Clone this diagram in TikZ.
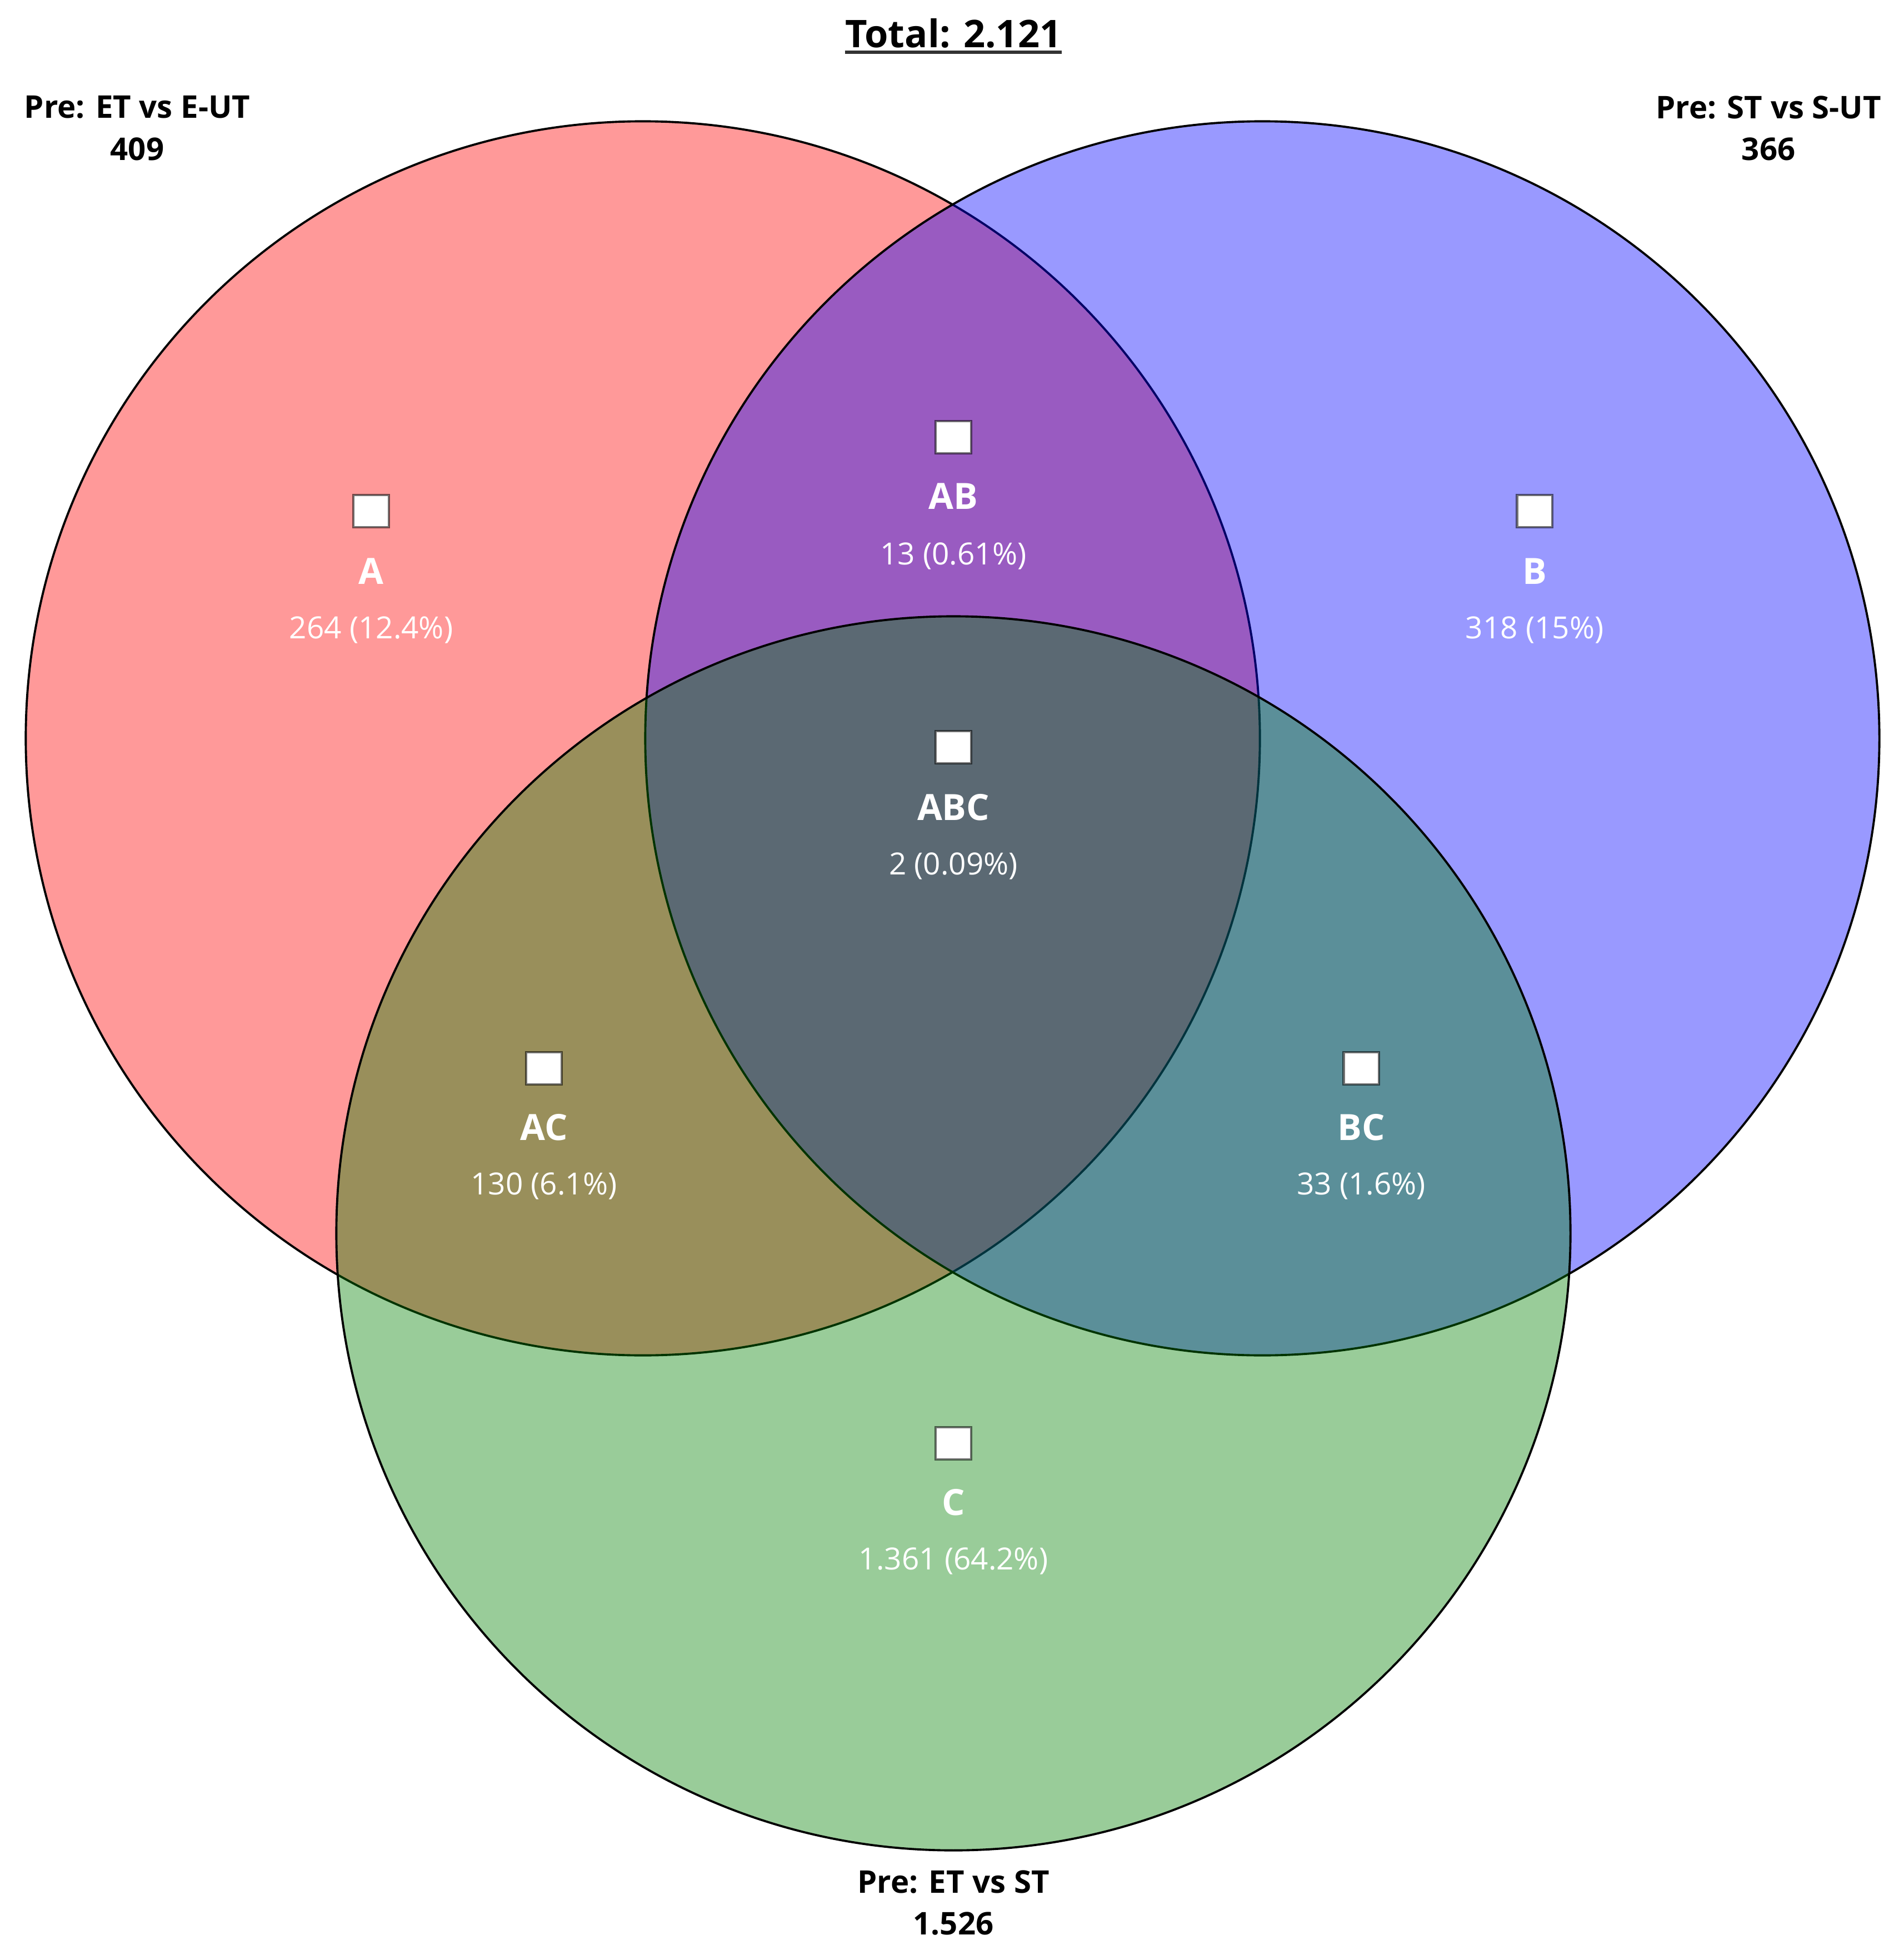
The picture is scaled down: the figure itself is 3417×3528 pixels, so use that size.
\documentclass[tikz,border=0pt]{standalone}
\usepackage{fontspec}
\setmainfont{Open Sans}
\definecolor{setAcol}{RGB}{255,0,0}
\definecolor{setBcol}{RGB}{0,0,255}
\definecolor{setCcol}{RGB}{0,128,0}
\begin{document}
\begin{tikzpicture}[x=0.01cm,y=-0.01cm,
  setcirc/.style={circle, draw=black, line width=1.1pt, fill opacity=0.4, minimum size=22.2cm, inner sep=0pt},
  sqbox/.style={draw=black, draw opacity=0.55, fill=white, line width=1.2pt, minimum width=18pt, minimum height=16.5pt, inner sep=0pt},
  reglab/.style={text=white, inner sep=0pt, font=\fontsize{18.5}{22}\selectfont\bfseries},
  regnum/.style={text=white, inner sep=0pt, font=\fontsize{15.6}{18}\selectfont},
  setlab/.style={align=center, inner sep=0pt, font=\fontsize{16}{21.5}\selectfont\bfseries},
]
\useasboundingbox (0,0) rectangle (3417,3528);
\fill[white] (0,0) rectangle (3417,3528);

% circles
\node[setcirc, fill=setAcol] (circA) at (1157,1329) {};
\node[setcirc, fill=setBcol] (circB) at (2272,1329) {};
\node[setcirc, fill=setCcol] (circC) at (1716,2220) {};

% title
\node[inner sep=0pt, anchor=base, font=\fontsize{19.5}{24}\selectfont\bfseries] (title) at (1716,86) {Total: 2.121};
\coordinate (ulL) at ([yshift=-2.2pt]title.base west);
\coordinate (ulR) at ([yshift=-2.2pt]title.base east);
\draw[line width=1.7pt, black!80] (ulL) -- (ulR);

% set labels
\node[setlab] (labSetA) at (247,231) {Pre: ET vs E-UT\\409};
\node[setlab] (labSetB) at (3183,231) {Pre: ST vs S-UT\\366};
\node[setlab] (labSetC) at (1716,3425) {Pre: ET vs ST\\1.526};

% regions
\node[sqbox] (sqA) at (668,920) {};
\node[reglab] (labA) at (668,1028) {A};
\node[regnum] (numA) at (668,1134) {264 (12.4\%)};

\node[sqbox] (sqAB) at (1716,787) {};
\node[reglab] (labAB) at (1716,893) {AB};
\node[regnum] (numAB) at (1716,1001) {13 (0.61\%)};

\node[sqbox] (sqB) at (2762,920) {};
\node[reglab] (labB) at (2762,1028) {B};
\node[regnum] (numB) at (2762,1134) {318 (15\%)};

\node[sqbox] (sqABC) at (1716,1345) {};
\node[reglab] (labABC) at (1716,1453) {ABC};
\node[regnum] (numABC) at (1716,1559) {2 (0.09\%)};

\node[sqbox] (sqAC) at (979,1923) {};
\node[reglab] (labAC) at (979,2029) {AC};
\node[regnum] (numAC) at (979,2135) {130 (6.1\%)};

\node[sqbox] (sqBC) at (2450,1923) {};
\node[reglab] (labBC) at (2450,2029) {BC};
\node[regnum] (numBC) at (2450,2135) {33 (1.6\%)};

\node[sqbox] (sqC) at (1716,2598) {};
\node[reglab] (labC) at (1716,2704) {C};
\node[regnum] (numC) at (1716,2810) {1.361 (64.2\%)};
\end{tikzpicture}
\end{document}
